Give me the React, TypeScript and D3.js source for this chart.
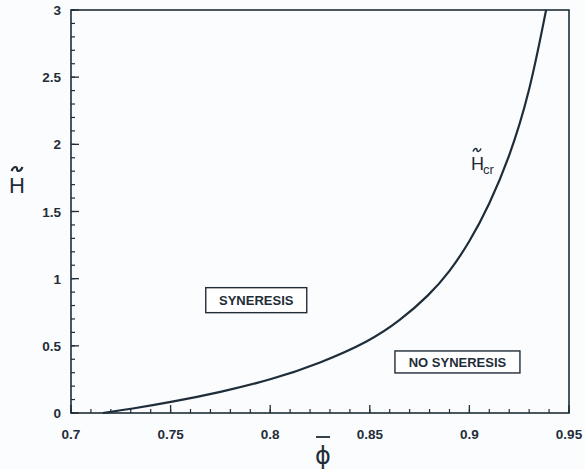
import React from "react";
import * as d3 from "d3";

const phiValues = [0.716, 0.73, 0.75, 0.775, 0.8, 0.825, 0.85, 0.865, 0.88, 0.89, 0.9, 0.91, 0.92, 0.93, 0.9385];
const hValues = [0, 0.03, 0.08, 0.155, 0.245, 0.37, 0.535, 0.685, 0.88, 1.05, 1.27, 1.55, 1.9, 2.37, 3.0];
const xTicks = [0.7, 0.75, 0.8, 0.85, 0.9, 0.95];
const yTicks = [0, 0.5, 1, 1.5, 2, 2.5, 3];
const xTickLabels = ["0.7", "0.75", "0.8", "0.85", "0.9", "0.95"];
const yTickLabels = ["0", "0.5", "1", "1.5", "2", "2.5", "3"];
const regionLabels = ["SYNERESIS", "NO SYNERESIS"];
const regionX = [0.793, 0.894];
const regionY = [0.84, 0.38];

const W = 585, H = 469;
const left = 71, right = 569, top = 10, bottom = 413;
const ink = "#1f2d38";
const font = "Liberation Sans, Arial, sans-serif";

function tilde(cx: number, cy: number, w: number, h: number) {
  const x0 = cx - w / 2, x1 = cx + w / 2;
  return `M${x0},${cy + h / 2} C${x0 + w * 0.25},${cy - h} ${cx},${cy - h / 2} ${cx},${cy} S${x1 - w * 0.25},${cy + h} ${x1},${cy - h / 2}`;
}

export default function App() {
  const x = d3.scaleLinear().domain([0.7, 0.95]).range([left, right]);
  const y = d3.scaleLinear().domain([0, 3]).range([bottom, top]);
  const line = d3.line<number>()
    .x((_, i) => x(phiValues[i]))
    .y((_, i) => y(hValues[i]))
    .curve(d3.curveBasis);
  const xMinor = d3.range(0.7, 0.9501, 0.01).map(v => +v.toFixed(2));
  const yMinor = d3.range(0, 3.001, 0.1).map(v => +v.toFixed(1));
  const boxW = [101, 125];
  const boxH = [25, 22];
  return (
    <svg width={W} height={H} style={{ position: "absolute", left: 0, top: 0, background: "#fbfcfe" }}>
      <rect x={0} y={0} width={W} height={H} fill="#fbfcfe" />
      <rect x={left} y={top} width={right - left} height={bottom - top} fill="none" stroke={ink} strokeWidth={1.6} />
      {xMinor.map((v, i) => (
        <line key={"xm" + i} x1={x(v)} x2={x(v)} y1={bottom} y2={bottom - 4} stroke={ink} strokeWidth={1.2} />
      ))}
      {xTicks.map((v, i) => (
        <g key={"xt" + i}>
          <line x1={x(v)} x2={x(v)} y1={bottom} y2={bottom - 8} stroke={ink} strokeWidth={1.3} />
          <text x={x(v)} y={bottom + 26} textAnchor="middle" fontFamily={font} fontWeight="bold" fontSize={13.5} fill={ink}>{xTickLabels[i]}</text>
        </g>
      ))}
      {yMinor.map((v, i) => (
        <line key={"ym" + i} x1={left} x2={left + 4} y1={y(v)} y2={y(v)} stroke={ink} strokeWidth={1.2} />
      ))}
      {yTicks.map((v, i) => (
        <g key={"yt" + i}>
          <line x1={left} x2={left + 8} y1={y(v)} y2={y(v)} stroke={ink} strokeWidth={1.3} />
          <text x={left - 10} y={y(v) + 5} textAnchor="end" fontFamily={font} fontWeight="bold" fontSize={13.5} fill={ink}>{yTickLabels[i]}</text>
        </g>
      ))}
      <path d={line(hValues) || ""} fill="none" stroke={ink} strokeWidth={2.2} />
      {regionLabels.map((t, i) => (
        <g key={"r" + i}>
          <rect x={x(regionX[i]) - boxW[i] / 2} y={y(regionY[i]) - boxH[i] / 2} width={boxW[i]} height={boxH[i]} fill="#fff" stroke={ink} strokeWidth={1.4} />
          <text x={x(regionX[i])} y={y(regionY[i]) + 5} textAnchor="middle" fontFamily={font} fontWeight="bold" fontSize={13} fill={ink}>{t}</text>
        </g>
      ))}
      {/* H_cr label */}
      <text x={471} y={170} fontFamily={font} fontSize={18} fill={ink}>H</text>
      <text x={483} y={174} fontFamily={font} fontSize={13} fill={ink}>cr</text>
      <path d={tilde(477, 150, 8, 3)} fill="none" stroke={ink} strokeWidth={1.6} />
      {/* y axis label */}
      <text x={9} y={193} fontFamily={font} fontSize={22} fill={ink}>H</text>
      <path d={tilde(17, 169, 11, 4)} fill="none" stroke={ink} strokeWidth={2.2} />
      {/* x axis label */}
      <line x1={316} x2={330} y1={437} y2={437} stroke={ink} strokeWidth={1.8} />
      <text x={323} y={464} textAnchor="middle" fontFamily="DejaVu Sans, sans-serif" fontSize={24} fill={ink}>ϕ</text>
    </svg>
  );
}
